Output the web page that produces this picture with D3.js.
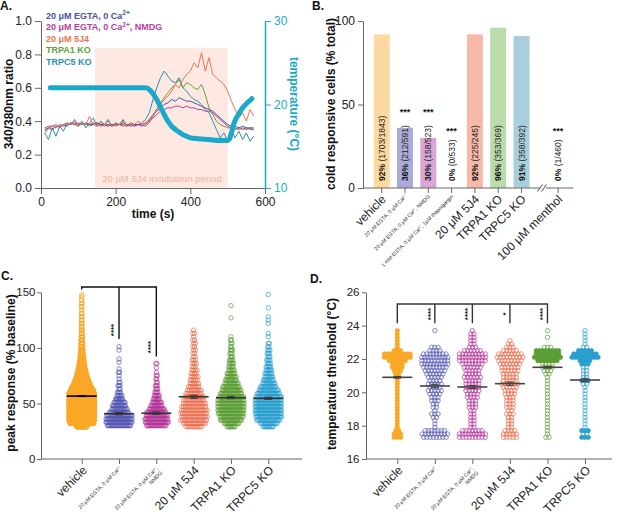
<!DOCTYPE html>
<html>
<head>
<meta charset="utf-8">
<script src="https://cdn.jsdelivr.net/npm/d3@7"></script>
<style>
  body { margin: 0; background: #fff; }
  text { font-family: "Liberation Sans", Arial, Helvetica, sans-serif; }
</style>
</head>
<body>
<svg id="fig" width="617" height="520"></svg>
<script>
// ---------------- data ----------------
// A: ratio traces (sampled every 10 s)
const traceTimes = [10,20,30,40,50,60,70,80,90,100,110,120,130,140,150,160,170,180,190,200,
  210,220,230,240,250,260,270,280,290,300,310,320,330,340,350,360,370,380,390,400,
  410,420,430,440,450,460,470,480,490,500,510,520,530,540,550,560,570];
const egtaTrace = [0.35,0.36,0.35,0.37,0.37,0.38,0.37,0.39,0.38,0.39,
  0.38,0.39,0.38,0.38,0.39,0.38,0.38,0.37,0.38,0.38,
  0.38,0.39,0.38,0.37,0.38,0.38,0.38,0.39,0.41,0.44,
  0.46,0.48,0.50,0.51,0.53,0.52,0.54,0.53,0.52,0.52,
  0.51,0.50,0.49,0.48,0.47,0.46,0.44,0.42,0.40,0.38,
  0.37,0.37,0.36,0.37,0.36,0.36,0.36];
const nmdgTrace = [0.36,0.37,0.37,0.38,0.36,0.38,0.39,0.38,0.39,0.38,
  0.39,0.38,0.38,0.39,0.38,0.37,0.38,0.38,0.37,0.38,
  0.38,0.37,0.38,0.38,0.37,0.38,0.37,0.38,0.40,0.42,
  0.44,0.46,0.47,0.48,0.48,0.49,0.49,0.48,0.49,0.48,
  0.48,0.47,0.47,0.46,0.46,0.45,0.43,0.41,0.39,0.37,
  0.36,0.36,0.35,0.36,0.35,0.36,0.35];
const j54Trace = [0.33,0.35,0.37,0.36,0.38,0.37,0.39,0.38,0.40,0.37,
  0.39,0.38,0.43,0.38,0.37,0.39,0.38,0.40,0.37,0.39,
  0.38,0.40,0.37,0.39,0.38,0.40,0.38,0.39,0.40,0.44,
  0.47,0.50,0.53,0.55,0.58,0.62,0.60,0.65,0.68,0.70,
  0.75,0.72,0.81,0.70,0.78,0.68,0.66,0.64,0.62,0.58,
  0.52,0.47,0.42,0.45,0.40,0.47,0.43];
const trpa1Trace = [0.34,0.36,0.37,0.36,0.38,0.37,0.38,0.39,0.38,0.37,
  0.39,0.38,0.37,0.38,0.39,0.38,0.37,0.38,0.38,0.37,
  0.38,0.38,0.37,0.38,0.37,0.38,0.38,0.37,0.39,0.43,
  0.47,0.51,0.54,0.57,0.60,0.62,0.65,0.60,0.63,0.62,
  0.60,0.59,0.62,0.56,0.48,0.44,0.40,0.38,0.37,0.36,
  0.36,0.35,0.36,0.35,0.36,0.35,0.35];
const trpc5Trace = [0.33,0.29,0.36,0.31,0.37,0.34,0.39,0.38,0.41,0.37,
  0.40,0.36,0.39,0.42,0.37,0.40,0.38,0.41,0.37,0.39,
  0.38,0.41,0.37,0.39,0.38,0.38,0.39,0.41,0.45,0.53,
  0.60,0.66,0.70,0.67,0.64,0.63,0.66,0.60,0.58,0.55,
  0.53,0.52,0.50,0.47,0.45,0.40,0.35,0.30,0.33,0.28,
  0.35,0.30,0.34,0.29,0.33,0.28,0.31];
const tempTimes = [25,100,200,270,280,290,300,310,320,330,340,350,360,370,380,390,400,420,450,480,500,505,510,515,520,530,540,550,560,565];
const tempValues = [22,22,22,22,22,21.8,21.3,20.6,19.7,18.8,18.0,17.4,17.0,16.7,16.4,16.2,16.0,15.9,15.8,15.7,15.7,15.9,16.6,17.5,18.1,18.9,19.6,20.1,20.5,20.7];
const traceNames = ['20 μM EGTA, 0 Ca', '20 μM EGTA, 0 Ca', '20 μM 5J4', 'TRPA1 KO', 'TRPC5 KO'];

// B: cold responsive cells
const bLabels = ['vehicle', '20 μM EGTA, 0 μM Ca²⁺', '20 μM EGTA, 0 μM Ca²⁺, NMDG',
  '1 mM EGTA, 0 μM Ca²⁺, 1μM thapsigargin', '20 μM 5J4', 'TRPA1 KO', 'TRPC5 KO', '100 μM menthol'];
const bPercent = [92, 36, 30, 0, 92, 96, 91, 0];
const bCounts = ['(1703/1843)', '(212/591)', '(158/523)', '(0/533)', '(225/245)', '(353/369)', '(358/392)', '(1/460)'];
const bStars = ['', '***', '***', '***', '', '', '', '***'];

// C/D shared group labels
const groupLabels = [['vehicle'], ['20 μM EGTA, 0 μM Ca²⁺'], ['20 μM EGTA, 0 μM Ca²⁺,', 'NMDG'],
  ['20 μM 5J4'], ['TRPA1 KO'], ['TRPC5 KO']];

// C: peak response, [value, number of cells]
const cVehicle = [[29,40],[32,90],[35,120],[38,135],[41,145],[44,145],[47,140],[50,135],[53,125],[56,110],
  [59,100],[62,88],[65,75],[68,62],[71,52],[74,44],[77,37],[80,31],[83,26],[86,22],[89,18],[92,15],
  [95,13],[98,11],[101,9],[104,8],[107,7],[110,6],[113,5],[116,5],[119,4],[122,4],[125,3],[128,3],
  [131,3],[134,2],[137,3],[140,3],[143,2],[146,2],[148,1]];
const cEgta = [[30,24],[33,28],[36,28],[39,26],[42,20],[45,16],[48,14],[51,12],[54,8],[57,6],[60,4],
  [63,2],[66,3],[69,2],[72,1],[75,1],[78,2],[81,1],[87,1],[90,1],[98,1],[101,1]];
const cNmdg = [[30,20],[33,24],[36,24],[39,22],[42,20],[45,16],[48,12],[51,10],[54,7],[57,6],[60,4],
  [63,3],[66,3],[69,2],[72,2],[75,2],[78,1],[82,1],[86,2]];
const c5j4 = [[29,10],[32,14],[35,16],[38,16],[41,16],[44,16],[47,15],[50,14],[53,13],[56,12],[59,10],
  [62,9],[65,7],[68,6],[71,5],[74,5],[77,4],[80,4],[83,3],[86,3],[89,3],[92,2],[95,2],[98,2],[101,2],
  [104,2],[107,2],[110,1],[113,2],[116,1]];
const cTrpa1 = [[29,8],[32,14],[35,20],[38,22],[41,24],[44,26],[47,26],[50,26],[53,25],[56,23],[59,20],
  [62,18],[65,16],[68,13],[71,11],[74,9],[77,8],[80,6],[83,5],[86,5],[89,4],[92,3],[95,3],[98,3],
  [101,2],[104,2],[107,2],[110,1],[127,1],[138,1]];
const cTrpc5 = [[29,10],[32,16],[35,22],[38,24],[41,26],[44,27],[47,27],[50,27],[53,26],[56,24],[59,21],
  [62,18],[65,15],[68,12],[71,10],[74,8],[77,7],[80,6],[83,5],[86,4],[89,4],[92,3],[95,3],[98,3],
  [101,2],[104,2],[110,1],[113,1],[122,1],[125,1],[128,1],[136,1],[148,1]];
const cMeans = [56.6, 40.8, 41.2, 56.0, 55.2, 54.6];
const cSem = [0.5, 1.0, 1.1, 1.4, 0.9, 0.9];

// D: temperature threshold, counts per 0.2 °C bin
const dBins = [17.3,17.5,17.7,17.9,18.1,18.3,18.5,18.7,18.9,19.1,19.3,19.5,19.7,19.9,20.1,20.3,20.5,
  20.7,20.9,21.1,21.3,21.5,21.7,21.9,22.1,22.3,22.5,22.7,22.9,23.1,23.3,23.5,23.7];
const dVehicle = [3,3,2,1,1,1,1,1,1,1,1,1,1,1,1,1,1,1,1,2,3,4,4,6,10,9,3,1,1,1,1,1,1];
const dEgta = [8,9,7,1,1,1,2,3,1,2,2,3,3,4,5,4,5,4,5,6,7,8,10,9,10,8,4,3,0,0,0,0,1];
const dNmdg = [9,10,7,2,2,2,2,2,2,3,3,3,4,4,5,5,5,5,6,5,5,6,7,9,10,9,6,3,2,2,2,2,1];
const d5j4 = [5,5,4,2,2,2,2,3,2,3,3,3,3,4,4,5,6,5,5,5,6,6,7,8,9,8,5,3,2,1,0,0,0];
const dTrpa1 = [2,1,1,1,1,1,1,1,1,1,1,1,1,1,1,1,1,1,1,2,3,4,4,7,10,8,8,3,0,0,1,0,1];
const dTrpc5 = [3,2,3,1,1,1,1,1,1,1,1,1,1,1,1,1,2,3,2,2,2,2,3,4,10,8,5,2,1,1,1,1,1];
const dMeans = [20.9, 20.38, 20.32, 20.52, 21.5, 20.74];
const dSem = [0.05, 0.1, 0.09, 0.1, 0.05, 0.1];

// ---------------- drawing ----------------
const svg = d3.select('#fig');
const axisCol = '#666';
const textCol = '#222';
const traceCols = ['#4b50a6', '#b8409f', '#ee7350', '#5ea336', '#2b8fae'];
const tempCol = '#1ba9c9';
const barCols = ['#fcd9a0', '#ababd8', '#d9a6d6', '#fff', '#f6b9a7', '#badcab', '#a8cfdc', '#fff'];
const dotCols = ['#f9a825', '#5558b3', '#b4359a', '#ec6a4a', '#5b9e35', '#2a9fd0'];

function styleAxis(g, col, fs) {
  g.selectAll('path, line').attr('stroke', col || axisCol).attr('stroke-width', 1);
  g.selectAll('text').attr('font-size', fs || 12).attr('fill', textCol);
}

function panelLetter(x, y, s) {
  svg.append('text').attr('x', x).attr('y', y).attr('font-size', 12)
    .attr('font-weight', 'bold').attr('fill', '#111').text(s);
}

function yTitle(x, y, s, rot, col) {
  svg.append('text').attr('transform', `translate(${x},${y}) rotate(${rot})`)
    .attr('text-anchor', 'middle').attr('font-size', 12).attr('font-weight', 'bold')
    .attr('fill', col || '#111').text(s);
}

// ===== Panel A =====
let xA = d3.scaleLinear().domain([0, 600]).range([41, 265]);
let yA = d3.scaleLinear().domain([0, 1]).range([188, 21]);
let yT = d3.scaleLinear().domain([10, 30]).range([188, 21]);
const gA = svg.append('g');

gA.append('rect')
  .attr('x', xA(145)).attr('y', yA(0.84))
  .attr('width', xA(500) - xA(145)).attr('height', yA(0) - yA(0.84))
  .attr('fill', '#fde8e2');
gA.append('text').attr('x', xA(324)).attr('y', 181.5).attr('text-anchor', 'middle')
  .attr('font-size', 9.5).attr('fill', '#f2b3a1').text('20 μM 5J4 incubation period');

let lineA = d3.line().x((d, i) => xA(traceTimes[i])).y(d => yA(d));
const traces = [egtaTrace, nmdgTrace, j54Trace, trpa1Trace, trpc5Trace];
[4, 3, 0, 1, 2].forEach(k => {
  gA.append('path').datum(traces[k]).attr('d', lineA)
    .attr('fill', 'none').attr('stroke', traceCols[k]).attr('stroke-width', 1);
});

let tempLine = d3.line().curve(d3.curveMonotoneX)
  .x((d, i) => xA(tempTimes[i])).y(d => yT(d));
gA.append('path').datum(tempValues).attr('d', tempLine)
  .attr('fill', 'none').attr('stroke', tempCol).attr('stroke-width', 5).attr('stroke-linecap', 'round');

let leftA = gA.append('g').attr('transform', 'translate(41,0)')
  .call(d3.axisLeft(yA).tickValues([0, 0.2, 0.4, 0.6, 0.8, 1]).tickFormat(d3.format('.1f')).tickSize(6).tickSizeOuter(0));
styleAxis(leftA);
let bottomA = gA.append('g').attr('transform', 'translate(0,188)')
  .call(d3.axisBottom(xA).tickValues([0, 200, 400, 600]).tickSize(6).tickSizeOuter(0));
styleAxis(bottomA);
let rightA = gA.append('g').attr('transform', 'translate(265,0)')
  .call(d3.axisRight(yT).tickValues([10, 20, 30]).tickSize(6).tickSizeOuter(0));
styleAxis(rightA, tempCol);
rightA.selectAll('path').attr('stroke-width', 1.5);
rightA.selectAll('text').attr('fill', tempCol);

gA.append('text').attr('x', 153).attr('y', 218).attr('text-anchor', 'middle')
  .attr('font-size', 12).attr('font-weight', 'bold').attr('fill', '#111').text('time (s)');
yTitle(13, 104, '340/380nm ratio', -90);
yTitle(290, 104, 'temperature (°C)', 90, tempCol);

// legend
const leg = gA.append('g').attr('font-size', 9).attr('font-weight', 'bold');
traceNames.forEach((name, i) => {
  const t = leg.append('text').attr('x', 46).attr('y', 18.7 + i * 11.5).attr('fill', traceCols[i]);
  t.append('tspan').text(name);
  if (i < 2) {
    t.append('tspan').attr('dy', -3.5).attr('font-size', 6.5).text('2+');
    if (i === 1) t.append('tspan').attr('dy', 3.5).text(', NMDG');
  }
});
panelLetter(0, 10, 'A.');

// ===== Panel B =====
let yB = d3.scaleLinear().domain([0, 100]).range([188, 21]);
let xB = d3.scaleLinear().domain([0, 7]).range([381.7, 544.8]);
const bSlot = i => (i < 7 ? i : 7.57);
const gB = svg.append('g');

gB.selectAll('rect.bar').data(bPercent).join('rect').attr('class', 'bar')
  .attr('x', (d, i) => xB(bSlot(i)) - 8).attr('width', 16)
  .attr('y', d => yB(d)).attr('height', d => yB(0) - yB(d))
  .attr('fill', (d, i) => barCols[i]);

bPercent.forEach((p, i) => {
  const cx = xB(bSlot(i));
  const t = gB.append('text').attr('transform', `translate(${cx + 3.1},181) rotate(-90)`)
    .attr('font-size', 8.5).attr('fill', textCol);
  t.append('tspan').attr('font-weight', 'bold').attr('fill', '#111').text(p + '%');
  t.append('tspan').text(' ' + bCounts[i]);
  if (bStars[i]) {
    const sy = p > 0 ? 114.7 : 133.5;
    gB.append('text').attr('x', cx).attr('y', sy).attr('text-anchor', 'middle')
      .attr('font-size', 9).attr('font-weight', 'bold').attr('fill', '#111').text(bStars[i]);
  }
});

let leftB = gB.append('g').attr('transform', 'translate(363,0)')
  .call(d3.axisLeft(yB).tickValues([0, 50, 100]).tickSize(5).tickSizeOuter(0));
styleAxis(leftB);
gB.append('path').attr('d', 'M363,188H540M546,188H573').attr('stroke', axisCol).attr('fill', 'none');
gB.append('path').attr('d', 'M537.5,191.5L542.5,184.5M541.5,191.5L546.5,184.5').attr('stroke', '#444').attr('fill', 'none');
bLabels.forEach((lab, i) => {
  const cx = xB(bSlot(i));
  gB.append('line').attr('x1', cx).attr('x2', cx).attr('y1', 188).attr('y2', 193).attr('stroke', axisCol);
  const small = i >= 1 && i <= 3;
  gB.append('text')
    .attr('transform', `translate(${cx + (small ? 2 : 5)},${small ? 197 : 200}) rotate(-45)`)
    .attr('text-anchor', 'end').attr('font-size', small ? 5.3 : 12).attr('fill', textCol).text(lab);
});
yTitle(335, 104, 'cold responsive cells  (% total)', -90);
panelLetter(312, 10, 'B.');

// ===== helpers for C/D =====
function swarm(g, rows, cx, y, color, k, fillMin, stagger) {
  const pts = [];
  rows.forEach(([v, n], ri) => {
    const span = Math.min(26, k * (n - 1));
    const shift = stagger && n > 1 && span < 26 ? (ri % 2 ? k / 2 : 0) : 0;
    for (let i = 0; i < n; i++) {
      const dx = n > 1 ? -span / 2 + span * i / (n - 1) : 0;
      pts.push({ x: cx + dx + shift, y: y(v), filled: n >= fillMin });
    }
  });
  g.append('g').selectAll('circle').data(pts).join('circle')
    .attr('cx', d => d.x).attr('cy', d => d.y).attr('r', 2.2)
    .attr('fill', d => (d.filled ? color : 'none'))
    .attr('stroke', color).attr('stroke-width', 0.7);
}

function meanBar(g, cx, y, m, s, col) {
  g.append('line').attr('x1', cx - 15).attr('x2', cx + 15).attr('y1', y(m)).attr('y2', y(m))
    .attr('stroke', col).attr('stroke-width', 1.6);
  g.append('path')
    .attr('d', `M${cx - 4},${y(m + s)}H${cx + 4}M${cx},${y(m + s)}V${y(m - s)}M${cx - 4},${y(m - s)}H${cx + 4}`)
    .attr('stroke', col).attr('stroke-width', 1).attr('fill', 'none');
}

function groupAxisLabels(g, x, yBase) {
  groupLabels.forEach((lines, i) => {
    const cx = x(i);
    const small = i === 1 || i === 2;
    const t = g.append('text')
      .attr('transform', `translate(${cx + (small ? 2 : 6)},${yBase + (small ? 0 : 2)}) rotate(-45)`)
      .attr('text-anchor', 'end').attr('font-size', small ? 5.3 : 12).attr('fill', textCol);
    lines.forEach((ln, j) => t.append('tspan').attr('x', 0).attr('dy', j ? '1.15em' : 0).text(ln));
  });
}

// ===== Panel C =====
let yC = d3.scaleLinear().domain([0, 150]).range([459, 292.3]);
let xC = d3.scaleLinear().domain([0, 5]).range([81.7, 268.3]);
const gC = svg.append('g');
const cGroups = [cVehicle, cEgta, cNmdg, c5j4, cTrpa1, cTrpc5];
const cK = [0.27, 1.0, 1.0, 1.7, 1.1, 1.1];
cGroups.forEach((rows, i) => swarm(gC, rows, xC(i), yC, dotCols[i], cK[i], Infinity, true));
cMeans.forEach((m, i) => meanBar(gC, xC(i), yC, m, cSem[i], i === 0 ? '#000' : '#333'));

let leftC = gC.append('g').attr('transform', 'translate(41,0)')
  .call(d3.axisLeft(yC).tickValues([0, 50, 100, 150]).tickSize(4).tickPadding(1.5).tickSizeOuter(0));
styleAxis(leftC, axisCol, 11.5);
let bottomC = gC.append('g').attr('transform', 'translate(0,459)')
  .call(d3.axisBottom(xC).tickValues([0, 1, 2, 3, 4, 5]).tickSize(5).tickFormat(''));
styleAxis(bottomC);
bottomC.select('.domain').attr('d', 'M41,0H302');
groupAxisLabels(gC, xC, 469);

gC.append('path')
  .attr('d', `M${xC(0)},289.5V287H${xC(2)}V356.5M${xC(1)},287V339`)
  .attr('stroke', '#111').attr('stroke-width', 1.4).attr('fill', 'none');
[[1, 330], [2, 347]].forEach(([i, y]) => {
  gC.append('text').attr('transform', `translate(${xC(i) - 3},${y}) rotate(-90)`)
    .attr('text-anchor', 'middle').attr('font-size', 8).attr('font-weight', 'bold')
    .attr('fill', '#111').text('****');
});
yTitle(15, 373, 'peak response (% baseline)', -90);
panelLetter(1, 280, 'C.');

// ===== Panel D =====
let yD = d3.scaleLinear().domain([16, 26]).range([459, 292.3]);
let xD = d3.scaleLinear().domain([0, 5]).range([397.3, 585]);
const gD = svg.append('g');
const dGroups = [dVehicle, dEgta, dNmdg, d5j4, dTrpa1, dTrpc5];
const dFillMin = [1, Infinity, Infinity, Infinity, 5, 3];
dGroups.forEach((counts, i) => {
  const rows = counts.map((n, j) => [dBins[j], n]).filter(r => r[1] > 0);
  swarm(gD, rows, xD(i), yD, dotCols[i], 3.2, dFillMin[i], false);
});
dMeans.forEach((m, i) => meanBar(gD, xD(i), yD, m, dSem[i], '#444'));

let leftD = gD.append('g').attr('transform', 'translate(366,0)')
  .call(d3.axisLeft(yD).tickValues([16, 18, 20, 22, 24, 26]).tickSize(4).tickPadding(2.5).tickSizeOuter(0));
styleAxis(leftD, axisCol, 11.5);
let bottomD = gD.append('g').attr('transform', 'translate(0,459)')
  .call(d3.axisBottom(xD).tickValues([0, 1, 2, 3, 4, 5]).tickSize(5).tickFormat(''));
styleAxis(bottomD);
bottomD.select('.domain').attr('d', 'M366,0H612');
groupAxisLabels(gD, xD, 469);

gD.append('path')
  .attr('d', `M${xD(0)},323.3V304H${xD(4)}V323.3` +
    [1, 2, 3].map(i => `M${xD(i)},304V323.3`).join(''))
  .attr('stroke', '#333').attr('stroke-width', 1.4).attr('fill', 'none');
[[1, '****'], [2, '****'], [3, '*'], [4, '****']].forEach(([i, s]) => {
  gD.append('text').attr('transform', `translate(${xD(i) - 2},314) rotate(-90)`)
    .attr('text-anchor', 'middle').attr('font-size', 8).attr('font-weight', 'bold')
    .attr('fill', '#111').text(s);
});
yTitle(336, 374, 'temperature threshold (°C)', -90);
panelLetter(310, 283, 'D.');
</script>
</body>
</html>
